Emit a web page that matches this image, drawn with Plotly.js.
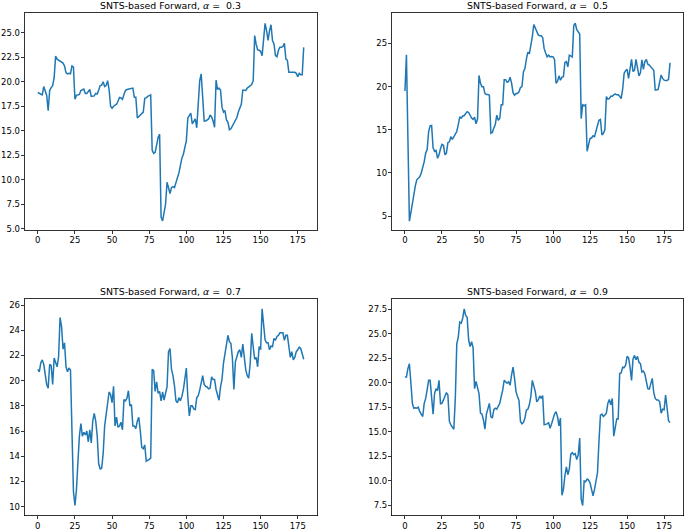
<!DOCTYPE html>
<html>
<head>
<meta charset="utf-8">
<script src="https://cdn.plot.ly/plotly-3.0.1.min.js"></script>
<style>html,body{margin:0;padding:0;background:#fff;}#chart{width:685px;height:529px;}</style>
</head>
<body>
<div id="chart"></div>
<script>
const alpha03 = [18.9, 18.8, 18.75, 18.65, 19.5, 19.0, 18.6, 17.05, 19.1, 19.4,
 19.6, 20.4, 22.6, 22.3, 22.2, 22.1, 22.0, 21.9, 21.6, 20.9,
 20.8, 20.85, 20.8, 21.6, 21.5, 18.2, 18.6, 18.65, 18.7, 19.1,
 19.2, 19.25, 18.8, 18.8, 19.0, 19.2, 18.5, 18.5, 18.55, 18.8,
 18.75, 19.15, 19.6, 19.65, 20.0, 19.5, 19.6, 20.1, 19.2, 17.5,
 17.3, 17.5, 17.6, 17.7, 18.0, 18.4, 18.35, 18.2, 18.7, 19.1,
 19.2, 19.25, 19.3, 19.3, 19.35, 18.4, 18.4, 16.3, 16.45, 16.6,
 16.75, 16.9, 18.3, 18.35, 18.5, 18.6, 18.65, 13.0, 12.7, 12.8,
 13.8, 14.3, 14.65, 6.2, 5.8, 6.5, 7.5, 9.75, 9.0, 8.6,
 9.2, 9.3, 9.2, 9.6, 10.2, 10.7, 11.5, 12.2, 12.6, 13.4,
 14.0, 16.3, 16.6, 16.8, 15.7, 16.0, 16.2, 15.3, 18.4, 20.1,
 20.8, 18.0, 16.0, 16.0, 16.1, 16.2, 16.6, 16.4, 16.0, 15.35,
 20.15, 19.2, 19.35, 19.15, 17.4, 16.9, 17.05, 16.1, 15.85, 15.1,
 15.2, 15.5, 15.75, 16.2, 16.35, 16.9, 17.4, 17.7, 19.15, 19.1,
 19.1, 19.35, 19.5, 19.55, 19.7, 20.1, 24.7, 23.8, 23.25, 23.2,
 23.1, 22.65, 24.5, 25.95, 25.2, 24.2, 25.2, 25.8, 24.2, 23.85,
 22.65, 22.55, 23.2, 23.5, 23.5, 23.6, 23.9, 22.3, 22.2, 20.95,
 20.95, 20.95, 21.0, 20.95, 20.85, 20.5, 20.85, 20.7, 20.7, 23.5];

const alpha05 = [19.5, 23.7, 14.0, 4.4, 5.4, 6.5, 7.6, 8.5, 9.2, 9.45,
 9.55, 10.0, 10.6, 11.3, 12.3, 12.7, 14.8, 15.45, 15.5, 12.9,
 12.5, 12.6, 11.7, 12.1, 12.8, 13.3, 13.2, 12.1, 12.3, 13.5,
 13.6, 14.2, 13.9, 14.15, 14.4, 14.8, 15.6, 16.5, 16.35, 16.6,
 16.65, 16.85, 17.1, 17.0, 16.6, 16.35, 16.2, 16.45, 15.7, 16.25,
 21.3, 20.4, 20.0, 20.0, 19.2, 19.1, 19.1, 19.0, 14.6, 14.7,
 15.2, 15.6, 16.7, 16.1, 16.3, 17.9, 17.9, 20.8, 20.8, 20.5,
 20.6, 21.1, 20.4, 19.3, 19.0, 19.2, 19.2, 19.4, 19.9, 20.0,
 21.7, 22.1, 23.2, 24.0, 23.8, 24.6, 25.8, 27.2, 26.8, 26.5,
 26.0, 25.9, 25.9, 25.7, 24.4, 23.9, 23.45, 23.65, 23.45, 23.5,
 23.45, 23.15, 20.4, 20.6, 21.25, 20.75, 21.1, 21.15, 22.8, 22.9,
 22.3, 23.65, 23.55, 23.45, 27.1, 27.35, 26.6, 26.35, 26.1, 16.3,
 17.9, 17.8, 17.9, 12.5, 13.5, 14.0, 14.05, 14.3, 14.2, 15.0,
 15.5, 16.1, 16.2, 14.4, 14.6, 15.0, 18.85, 18.55, 18.6, 18.9,
 18.9, 19.05, 19.15, 19.05, 19.05, 18.9, 18.6, 19.7, 21.55, 21.85,
 22.0, 20.95, 22.1, 23.15, 21.75, 21.9, 23.15, 22.3, 21.25, 21.6,
 23.1, 22.0, 22.9, 23.15, 22.6, 22.5, 22.3, 22.1, 21.9, 19.6,
 19.6, 19.7, 20.6, 21.35, 20.95, 20.75, 20.7, 20.7, 20.85, 22.75];

const alpha07 = [20.9, 20.7, 21.4, 21.65, 21.3, 20.5, 19.7, 19.4, 21.3, 21.2,
 19.7, 21.8, 21.5, 21.1, 21.9, 25.0, 24.3, 22.5, 23.0, 21.1,
 20.7, 21.0, 20.85, 14.5, 11.2, 10.1, 11.3, 13.5, 15.6, 16.6,
 15.6, 15.9, 15.7, 16.0, 15.15, 16.1, 15.05, 16.8, 17.4, 16.8,
 15.6, 13.4, 13.0, 13.05, 14.2, 16.4, 17.3, 18.1, 19.1, 18.9,
 18.25, 19.55, 16.4, 17.1, 16.3, 16.4, 16.7, 16.1, 18.5, 18.4,
 18.6, 19.2, 18.0, 18.1, 16.4, 16.4, 16.2, 16.8, 17.1, 16.0,
 14.7, 14.6, 14.9, 13.6, 13.65, 13.75, 13.85, 20.9, 20.8, 19.15,
 19.9, 19.0, 19.15, 18.4, 19.1, 18.45, 19.0, 19.5, 22.3, 22.55,
 20.9, 20.4, 19.6, 18.4, 18.25, 18.65, 18.4, 18.75, 19.3, 20.2,
 21.0, 18.7, 17.2, 18.0, 18.0, 17.75, 17.7, 18.65, 18.8, 19.25,
 19.85, 20.4, 19.7, 19.55, 19.5, 19.35, 19.4, 20.3, 20.1, 20.1,
 19.3, 18.9, 18.45, 19.5, 20.1, 21.4, 22.2, 22.65, 23.6, 23.1,
 22.95, 21.8, 19.3, 21.5, 21.95, 22.3, 22.45, 21.85, 22.9, 21.8,
 20.85, 20.4, 20.2, 21.4, 23.75, 22.7, 21.7, 21.85, 21.1, 22.7,
 22.45, 25.7, 24.15, 23.25, 23.0, 23.0, 22.45, 22.75, 22.7, 23.35,
 23.2, 23.5, 23.6, 23.8, 23.8, 23.8, 23.2, 23.6, 23.6, 22.55,
 21.85, 22.3, 21.65, 21.85, 22.3, 22.45, 22.65, 22.55, 22.2, 21.7];

const alpha09 = [20.6, 20.6, 21.45, 21.95, 20.0, 17.9, 17.4, 17.45, 17.4, 17.5,
 17.05, 16.8, 16.55, 17.9, 18.4, 19.3, 20.25, 20.25, 18.75, 16.8,
 18.9, 19.4, 19.2, 20.25, 17.85, 17.9, 18.25, 18.75, 19.0, 18.75,
 16.05, 15.7, 15.5, 15.25, 18.4, 24.0, 24.65, 26.2, 26.1, 26.6,
 27.55, 26.9, 26.7, 24.4, 23.7, 24.2, 23.6, 19.4, 20.15, 19.6,
 18.9, 16.9, 16.8, 16.2, 15.25, 16.8, 17.4, 17.9, 16.55, 16.4,
 17.25, 17.4, 17.3, 17.55, 17.9, 18.6, 19.25, 20.25, 20.1, 19.95,
 20.1, 19.75, 20.8, 21.6, 20.45, 19.1, 18.6, 18.2, 16.05, 15.8,
 15.95, 16.4, 17.2, 17.3, 17.75, 18.6, 20.25, 19.75, 19.1, 18.05,
 18.25, 18.65, 18.4, 18.7, 15.7, 15.75, 15.8, 15.95, 15.35, 15.8,
 16.4, 16.8, 17.05, 16.55, 15.6, 16.4, 8.5, 9.1, 10.5, 11.4,
 10.6, 11.2, 12.7, 12.85, 12.65, 12.75, 12.15, 12.65, 14.35, 8.1,
 7.45, 9.95, 9.9, 10.15, 10.05, 9.75, 9.1, 8.45, 9.1, 9.95,
 10.8, 14.0, 16.7, 16.8, 16.55, 16.7, 16.9, 17.9, 18.3, 17.75,
 18.4, 14.55, 15.55, 16.3, 16.3, 20.95, 21.0, 21.6, 21.55, 21.8,
 22.7, 22.55, 21.6, 20.25, 22.45, 22.8, 22.35, 22.7, 22.1, 21.95,
 21.1, 21.2, 20.9, 20.25, 19.4, 19.35, 19.95, 20.45, 19.0, 18.4,
 18.25, 18.25, 18.05, 16.9, 17.3, 17.25, 18.75, 17.6, 16.1, 15.95];

const alphaLabels = ['0.3', '0.5', '0.7', '0.9'];
const series = [alpha03, alpha05, alpha07, alpha09];

const blue = '#1f77b4';
const tickFont = {family: 'DejaVu Sans', size: 8.5, color: '#000'};
const traces = series.map((ys, k) => ({
  x: ys.map((_, i) => i),
  y: ys,
  type: 'scatter',
  mode: 'lines',
  line: {color: blue, width: 1.5},
  xaxis: k === 0 ? 'x' : 'x' + (k + 1),
  yaxis: k === 0 ? 'y' : 'y' + (k + 1),
  hoverinfo: 'skip'
}));

const W = 685, H = 529;
const colX = [[24.5, 317], [391.7, 683.3]];
const rowY = [[13.3, 230.3], [299, 515.5]];
function dom(a, b, total) { return [a / total, b / total]; }
function ydom(top, bottom) { return [1 - bottom / H, 1 - top / H]; }

const baseAxis = {
  showline: true, mirror: true, linecolor: '#000', linewidth: 0.8,
  ticks: 'outside', ticklen: 3, tickwidth: 0.8, tickcolor: '#000',
  showgrid: false, zeroline: false, tickfont: tickFont, fixedrange: true,
  ticklabelstandoff: -1
};

const yRanges = [[4.85, 26.97], [3.35, 28.5], [9.3, 26.48], [6.43, 28.57]];
const yDticks = [2.5, 5, 2, 2.5];
const yFormats = ['.1f', 'd', 'd', '.1f'];

const layout = {
  width: W, height: H,
  margin: {l: 0, r: 0, t: 0, b: 0},
  paper_bgcolor: '#fff', plot_bgcolor: '#fff',
  showlegend: false,
  annotations: []
};

for (let k = 0; k < 4; k++) {
  const col = k % 2, row = Math.floor(k / 2);
  const sx = k === 0 ? '' : String(k + 1);
  layout['xaxis' + sx] = Object.assign({}, baseAxis, {
    domain: dom(colX[col][0], colX[col][1], W),
    anchor: 'y' + sx,
    range: [-8.95, 187.95], tick0: 0, dtick: 25
  });
  layout['yaxis' + sx] = Object.assign({}, baseAxis, {
    domain: ydom(rowY[row][0], rowY[row][1]),
    anchor: 'x' + sx,
    range: yRanges[k], tick0: 0, dtick: yDticks[k], tickformat: yFormats[k]
  });
  layout.annotations.push({
    xref: 'paper', yref: 'paper',
    x: (colX[col][0] + colX[col][1]) / 2 / W,
    y: 1 - (rowY[row][0] - 7.3) / H,
    xanchor: 'center', yanchor: 'middle',
    showarrow: false,
    text: 'SNTS-based Forward, <i>α</i> =\u00a0 ' + alphaLabels[k],
    font: {family: 'DejaVu Sans', size: 9.4, color: '#000'}
  });
}

Plotly.newPlot('chart', traces, layout, {displayModeBar: false, staticPlot: true});
</script>
</body>
</html>
